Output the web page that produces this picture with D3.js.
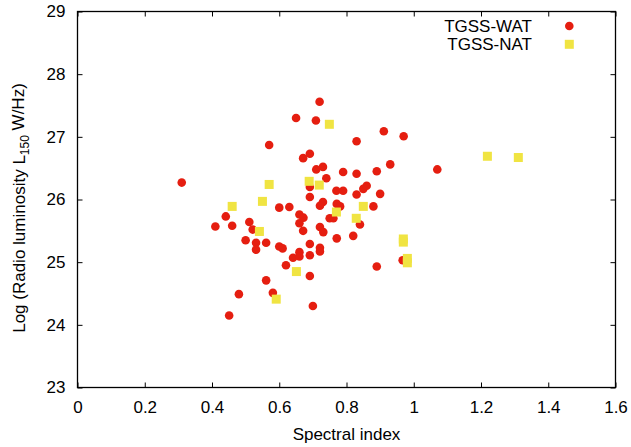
<!DOCTYPE html>
<html>

<head>
    <meta charset="utf-8">
    <script src="https://d3js.org/d3.v7.min.js"></script>
    <style>
        body { margin: 0; background: #fff; }
        text { font-family: "Liberation Sans", Arial, sans-serif; fill: #000; }
    </style>
    <script>
        let width = 631;
        let height = 447;

        // spectral index / log luminosity
        let watIndex = [0.310, 0.410, 0.441, 0.451, 0.460, 0.480, 0.500, 0.511, 0.521, 0.531,
            0.531, 0.561, 0.561, 0.570, 0.581, 0.600, 0.600, 0.610, 0.620, 0.630,
            0.641, 0.650, 0.660, 0.672, 0.660, 0.671, 0.660, 0.660, 0.671, 0.691,
            0.691, 0.691, 0.691, 0.691, 0.691, 0.700, 0.709, 0.720, 0.710, 0.730,
            0.740, 0.730, 0.721, 0.721, 0.731, 0.750, 0.721, 0.721, 0.761, 0.770,
            0.790, 0.771, 0.781, 0.771, 0.790, 0.830, 0.830, 0.830, 0.820, 0.840,
            0.850, 0.860, 0.880, 0.890, 0.890, 0.900, 0.911, 0.930, 0.970, 0.967,
            1.070];
        let watLum = [26.27, 25.57, 25.73, 24.15, 25.58, 24.49, 25.35, 25.64, 25.52, 25.31,
            25.20, 25.31, 24.71, 26.87, 24.51, 25.87, 25.25, 25.22, 24.95, 25.88,
            25.07, 27.30, 25.76, 25.71, 25.62, 25.50, 25.16, 25.09, 26.66, 26.73,
            26.20, 26.04, 25.29, 25.11, 24.78, 24.30, 27.26, 27.56, 26.48, 26.52,
            26.34, 25.96, 25.90, 25.56, 25.48, 25.70, 25.23, 25.17, 25.70, 26.14,
            26.14, 25.93, 25.89, 25.38, 26.44, 26.93, 26.41, 26.08, 25.42, 25.60,
            26.17, 26.22, 25.89, 26.45, 24.93, 26.09, 27.09, 26.56, 27.01, 25.03,
            26.48];
        let natIndex = [0.460, 0.541, 0.550, 0.570, 0.591, 0.651, 0.689, 0.719, 0.749, 0.770,
            0.829, 0.850, 0.969, 0.969, 0.981, 0.981, 1.219, 1.311];
        let natLum = [25.89, 25.49, 25.97, 26.24, 24.41, 24.85, 26.29, 26.23, 27.20, 25.80,
            25.70, 25.89, 25.37, 25.32, 25.06, 24.99, 26.69, 26.67];
        let xTicks = [0, 0.2, 0.4, 0.6, 0.8, 1, 1.2, 1.4, 1.6];
        let yTicks = [23, 24, 25, 26, 27, 28, 29];

        function draw() {
            let svg = d3.select('body').append('svg')
                .attr('width', width)
                .attr('height', height);

            let x = d3.scaleLinear().domain([0, 1.6]).range([77.5, 615.5]);
            let y = d3.scaleLinear().domain([23, 29]).range([387.5, 11.5]);

            // axes with inward ticks, gnuplot style
            svg.append('g')
                .attr('transform', 'translate(0,' + y(23) + ')')
                .call(d3.axisBottom(x).tickValues(xTicks).tickFormat(d3.format('')).tickSizeInner(-5).tickSizeOuter(0).tickPadding(13));
            svg.append('g')
                .attr('transform', 'translate(0,' + y(29) + ')')
                .call(d3.axisTop(x).tickValues(xTicks).tickFormat('').tickSizeInner(-5).tickSizeOuter(0));
            svg.append('g')
                .attr('transform', 'translate(' + x(0) + ',0)')
                .call(d3.axisLeft(y).tickValues(yTicks).tickFormat(d3.format('d')).tickSizeInner(-5).tickSizeOuter(0).tickPadding(12));
            svg.append('g')
                .attr('transform', 'translate(' + x(1.6) + ',0)')
                .call(d3.axisRight(y).tickValues(yTicks).tickFormat('').tickSizeInner(-5).tickSizeOuter(0));

            svg.selectAll('.domain').remove();
            svg.selectAll('.tick line').attr('stroke', '#000').attr('stroke-width', 1);
            svg.selectAll('.tick text').style('font-size', '17px')
                .style('font-family', '"Liberation Sans", Arial, sans-serif');

            svg.append('rect')
                .attr('x', x(0)).attr('y', y(29))
                .attr('width', x(1.6) - x(0)).attr('height', y(23) - y(29))
                .attr('fill', 'none').attr('stroke', '#000').attr('stroke-width', 1.3);

            let wat = watIndex.map((d, i) => [d, watLum[i]]);
            let nat = natIndex.map((d, i) => [d, natLum[i]]);

            svg.append('g').selectAll('circle')
                .data(wat)
                .join('circle')
                .attr('cx', d => x(d[0]))
                .attr('cy', d => y(d[1]))
                .attr('r', 4.3)
                .attr('fill', '#e51e10');

            let s = 9;
            svg.append('g').selectAll('rect')
                .data(nat)
                .join('rect')
                .attr('x', d => x(d[0]) - s / 2)
                .attr('y', d => y(d[1]) - s / 2)
                .attr('width', s)
                .attr('height', s)
                .attr('fill', '#f0e442');

            // legend
            svg.append('text').attr('x', 532).attr('y', 32).attr('text-anchor', 'end')
                .style('font-size', '17px').text('TGSS-WAT');
            svg.append('circle').attr('cx', 569.3).attr('cy', 26).attr('r', 4.3).attr('fill', '#e51e10');
            svg.append('text').attr('x', 532).attr('y', 50).attr('text-anchor', 'end')
                .style('font-size', '17px').text('TGSS-NAT');
            svg.append('rect').attr('x', 569.3 - s / 2).attr('y', 44.3 - s / 2)
                .attr('width', s).attr('height', s).attr('fill', '#f0e442');

            // axis titles
            svg.append('text').attr('x', x(0.8)).attr('y', 440).attr('text-anchor', 'middle')
                .style('font-size', '17px').text('Spectral index');

            let yl = svg.append('text')
                .attr('transform', 'translate(25,208) rotate(-90)')
                .attr('text-anchor', 'middle')
                .style('font-size', '17px');
            yl.append('tspan').text('Log (Radio luminosity L');
            yl.append('tspan').attr('dy', '0.3em').style('font-size', '12px').text('150');
            yl.append('tspan').attr('dy', '-0.3em').text(' W/Hz)');
        }
    </script>
</head>

<body>
    <script>
        draw();
    </script>
</body>

</html>
